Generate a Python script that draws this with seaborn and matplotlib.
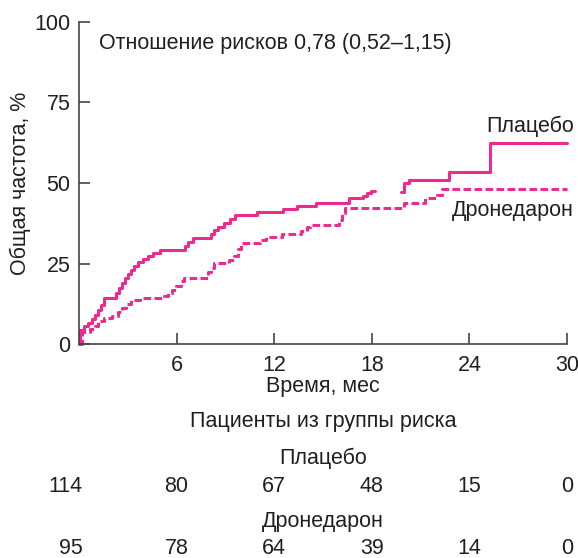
import numpy as np
import pandas as pd
import matplotlib
matplotlib.use("Agg")
import matplotlib.pyplot as plt
import matplotlib.transforms as mtransforms
import seaborn as sns

# Cumulative incidence (%) at step times (months)
placebo_t1 = [0, 0.06, 0.31, 0.55, 0.80, 0.99, 1.17, 1.36, 1.54, 2.28, 2.46, 2.65, 2.83,
              3.02, 3.20, 3.39, 3.64, 3.94, 4.25, 4.56, 4.99, 6.53, 6.72, 7.02, 8.13,
              8.32, 8.56, 8.93, 9.30, 9.61, 10.97, 12.57, 13.43, 14.54, 16.57, 17.44,
              17.68, 17.93, 18.18]
placebo_y1 = [0, 4.3, 5.6, 6.5, 7.8, 9.0, 10.6, 12.1, 14.2, 15.8, 17.4, 18.9, 20.5,
              21.7, 23.0, 24.2, 25.5, 26.4, 27.3, 28.3, 29.2, 30.4, 31.7, 32.9, 34.2,
              35.4, 36.3, 37.6, 38.8, 40.1, 41.0, 41.9, 42.9, 43.8, 45.3, 46.0,
              46.9, 47.5, 47.5]
placebo_t2 = [19.78, 19.96, 20.30, 22.74, 25.26, 30.0]
placebo_y2 = [47.3, 50.0, 50.9, 53.5, 62.5, 62.5]

drone_t = [0, 0.18, 0.68, 0.99, 1.17, 1.54, 2.03, 2.40, 2.65, 2.90, 3.20, 3.76, 5.24,
           5.48, 5.73, 5.98, 6.28, 6.47, 7.95, 8.13, 8.32, 9.24, 9.55, 9.80, 9.98,
           11.15, 11.52, 12.51, 13.62, 13.99, 14.23, 15.96, 16.14, 16.33, 19.96,
           21.26, 22.0, 22.30, 30.0]
drone_y = [0, 3.7, 4.7, 5.6, 7.1, 8.1, 8.7, 9.9, 11.2, 12.4, 13.7, 14.3, 14.9,
           15.8, 16.8, 18.0, 19.6, 20.5, 22.4, 23.6, 25.2, 26.1, 27.3, 29.5, 31.4,
           32.3, 33.2, 34.2, 35.1, 36.3, 37.0, 38.5, 40.7, 42.2, 43.8,
           45.3, 46.3, 48.1, 48.1]

# Numbers at risk
risk_times = [0, 6, 12, 18, 24, 30]
risk_placebo = [114, 80, 67, 48, 15, 0]
risk_drone = [95, 78, 64, 39, 14, 0]

x_ticks = [6, 12, 18, 24, 30]
y_ticks = [0, 25, 50, 75, 100]

df = pd.concat([
    pd.DataFrame({"month": placebo_t1, "pct": placebo_y1, "group": "Плацебо", "seg": "p1"}),
    pd.DataFrame({"month": placebo_t2, "pct": placebo_y2, "group": "Плацебо", "seg": "p2"}),
    pd.DataFrame({"month": drone_t, "pct": drone_y, "group": "Дронедарон", "seg": "d1"}),
], ignore_index=True)

sns.set_style("ticks")
plt.rcParams["font.family"] = ["Liberation Sans", "DejaVu Sans"]

pink = "#EE2A8F"
ink = "#231F20"
fs = 15.5
W, H = 578, 558

fig = plt.figure(figsize=(W / 100, H / 100), dpi=100)
ax = fig.add_axes([79 / W, 1 - 344 / H, (567 - 79) / W, (344 - 22) / H])

sns.lineplot(data=df, x="month", y="pct", hue="group", style="group", units="seg",
             estimator=None, sort=False, drawstyle="steps-post",
             palette={"Плацебо": pink, "Дронедарон": pink},
             dashes={"Плацебо": "", "Дронедарон": (2.5, 1.1)},
             linewidth=2.2, legend=False, ax=ax)

ax.set_xlim(0, 30)
ax.set_ylim(0, 100)
ax.set_xticks(x_ticks)
ax.set_yticks(y_ticks)
ax.tick_params(direction="in", length=8, width=1.2, color="#444444",
               labelsize=fs, labelcolor=ink, pad=6)
ax.tick_params(axis="x", pad=8)
for side in ("top", "right"):
    ax.spines[side].set_visible(False)
for side in ("left", "bottom"):
    ax.spines[side].set_color("#444444")
    ax.spines[side].set_linewidth(1.2)
for ln in ax.lines:
    ln.set_clip_on(False)

ax.set_xlabel("Время, мес", fontsize=fs, color=ink)
ax.set_ylabel("Общая частота, %", fontsize=fs, color=ink)
ax.xaxis.set_label_coords(0.5, -0.1)
ax.yaxis.set_label_coords(-0.098, 0.5)

ax.text(1.25, 93.3, "Отношение рисков 0,78 (0,52–1,15)", fontsize=fs, color=ink,
        va="center", ha="left")
ax.text(30.4, 67.6, "Плацебо", fontsize=fs, color=ink, va="center", ha="right")
ax.text(30.4, 41.5, "Дронедарон", fontsize=fs, color=ink, va="center", ha="right")

# Numbers-at-risk table under the axes
tr = mtransforms.blended_transform_factory(ax.transData, fig.transFigure)
fig.text(323 / W, 1 - 422 / H, "Пациенты из группы риска", fontsize=fs, color=ink,
         ha="center", va="center")
fig.text(323 / W, 1 - 458 / H, "Плацебо", fontsize=fs, color=ink, ha="center", va="center")
fig.text(323 / W, 1 - 521 / H, "Дронедарон", fontsize=fs, color=ink, ha="center", va="center")
for row, ypix in ((risk_placebo, 487), (risk_drone, 548)):
    for i, (t, n) in enumerate(zip(risk_times, row)):
        ha = "right" if i == 0 else "center"
        xt = t + 0.2 if i == 0 else t
        ax.text(xt, 1 - ypix / H, str(n), transform=tr, fontsize=fs, color=ink,
                ha=ha, va="center")

fig.savefig("out.png", dpi=100)
